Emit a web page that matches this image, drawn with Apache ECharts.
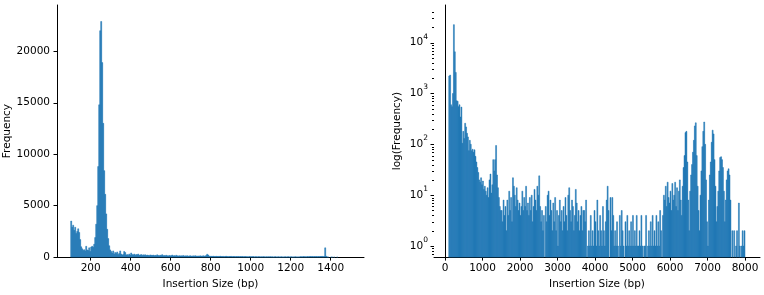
<!DOCTYPE html>
<html>
<head>
<meta charset="utf-8">
<script src="https://cdn.jsdelivr.net/npm/echarts@6/dist/echarts.min.js"></script>
<style>
  html, body { margin: 0; padding: 0; background: #fff; }
  #chart { width: 764px; height: 295px; }
</style>
</head>
<body>
<div id="chart"></div>
<script>
// left panel: 5 bp bins from 100 to 1500
const leftBinStart = 100
const leftBinWidth = 5
const leftCounts = [
  3500, 2900, 3100, 2600, 2900, 2300, 2500, 2750, 2400, 1700, 1000, 800, 650, 720, 600, 1050, 700, 650, 900, 550,
  980, 1050, 950, 1250, 1900, 3200, 5000, 8800, 14800, 22000, 22900, 18900, 13000, 8400, 6100, 4200, 2700, 1800, 1100, 700,
  550, 400, 600, 300, 450, 350, 500, 250, 350, 600, 300, 200, 250, 550, 450, 200, 250, 150, 300, 200,
  400, 250, 200, 300, 180, 250, 220, 300, 180, 200, 250, 150, 220, 180, 230, 150, 200, 170, 140, 210,
  180, 150, 200, 130, 170, 140, 220, 160, 120, 180, 150, 240, 130, 160, 120, 180, 140, 110, 160, 130,
  120, 200, 110, 150, 100, 180, 130, 90, 140, 110, 130, 100, 160, 90, 120, 100, 140, 80, 110, 130,
  100, 90, 120, 80, 140, 100, 90, 110, 80, 120, 100, 80, 130, 90, 110, 150, 280, 200, 90, 70,
  80, 60, 90, 70, 50, 80, 60, 70, 50, 90, 60, 50, 70, 40, 60, 80, 50, 40, 60, 50,
  70, 40, 50, 60, 30, 50, 40, 60, 30, 50, 40, 60, 30, 40, 50, 30, 40, 20, 50, 30,
  40, 30, 50, 20, 30, 40, 20, 30, 40, 20, 30, 20, 40, 30, 10, 30, 20, 30, 20, 40,
  20, 30, 10, 20, 40, 20, 10, 30, 20, 10, 30, 20, 10, 20, 30, 10, 20, 40, 10, 20,
  30, 10, 20, 10, 30, 20, 10, 20, 10, 30, 40, 20, 50, 30, 40, 20, 50, 30, 40, 60,
  40, 60, 30, 50, 40, 60, 30, 50, 40, 60, 50, 70, 40, 60, 900, 80, 20, 10, 0, 0,
  5, 2, 0, 1, 0, 0, 1, 0, 0, 0, 0, 0, 0, 0, 0, 0, 0, 0, 0, 0
]

// right panel: 25 bp bins from 100 to 8000
const rightBinStart = 100
const rightBinWidth = 25
const rightCounts = [
  2200, 2300, 600, 550, 1000, 22600, 6600, 2600, 720, 700, 550, 600, 345, 540, 105, 180, 130, 260, 220, 165,
  140, 75, 120, 100, 75, 80, 70, 78, 58, 45, 35, 28, 20, 18, 22, 16, 19, 13, 15, 12,
  10, 14, 9, 20, 26, 11, 16, 50, 30, 50, 95, 25, 14, 9, 6, 5, 5, 3, 8, 4,
  6, 2, 8, 4, 12, 5, 9, 3, 22, 15, 10, 6, 14, 8, 5, 7, 4, 6, 12, 5,
  9, 6, 15, 5, 7, 4, 9, 5, 10, 3, 6, 13, 8, 5, 15, 10, 24, 6, 3, 5,
  2, 4, 0, 6, 3, 10, 12, 4, 8, 5, 2, 7, 3, 9, 2, 5, 1, 4, 8, 3,
  5, 2, 6, 3, 9, 4, 2, 10, 14, 5, 3, 8, 6, 2, 4, 13, 7, 3, 5, 2,
  4, 6, 2, 5, 5, 3, 8, 0, 1, 2, 1, 4, 1, 2, 1, 5, 3, 1, 8, 2,
  1, 4, 2, 1, 6, 2, 1, 3, 8, 15, 5, 0, 9, 2, 9, 4, 1, 2, 1, 3,
  1, 0, 4, 1, 5, 2, 1, 0, 3, 1, 4, 1, 2, 1, 3, 1, 4, 1, 2, 1,
  4, 1, 1, 2, 1, 4, 1, 0, 1, 1, 4, 0, 1, 2, 1, 3, 1, 4, 1, 2,
  1, 4, 1, 3, 1, 5, 2, 0, 4, 10, 8, 15, 6, 18, 9, 7, 12, 5, 17, 8,
  10, 18, 6, 14, 5, 12, 20, 8, 4, 15, 35, 60, 170, 180, 45, 8, 2, 12, 25, 40,
  70, 120, 230, 265, 60, 15, 5, 2, 10, 30, 90, 180, 275, 100, 20, 3, 1, 8, 25, 45,
  110, 190, 160, 50, 15, 3, 6, 12, 30, 55, 57, 50, 35, 12, 3, 8, 20, 30, 33, 25,
  8, 0, 2, 0, 2, 0, 1, 2, 0, 7, 1, 0, 1, 2, 1, 2
]

const leftXTicks = [200, 400, 600, 800, 1000, 1200, 1400]
const leftYTicks = [0, 5000, 10000, 15000, 20000]
const rightXTicks = [0, 1000, 2000, 3000, 4000, 5000, 6000, 7000, 8000]
const rightYMajor = [1, 10, 100, 1000, 10000]
const rightYMinor = [
  0.7, 0.8, 0.9,
  2, 3, 4, 5, 6, 7, 8, 9,
  20, 30, 40, 50, 60, 70, 80, 90,
  200, 300, 400, 500, 600, 700, 800, 900,
  2000, 3000, 4000, 5000, 6000, 7000, 8000, 9000,
  20000, 30000, 40000
]

const BAR = '#1f77b4'
const FONT = 'DejaVu Sans'
const rightXMin = -293, rightXMax = 8400
const rightYMin = 0.606, rightYMax = 55000

function toBins(start, width, counts) {
  return counts.map((c, i) => [start + i * width, start + (i + 1) * width, c])
}

function histItem(base) {
  return function (params, api) {
    const v = api.value(2)
    if (!(v > 0)) return null
    const p0 = api.coord([api.value(0), v])
    const p1 = api.coord([api.value(1), base])
    return {
      type: 'rect',
      shape: { x: p0[0], y: p0[1], width: p1[0] - p0[0], height: p1[1] - p0[1] },
      style: { fill: BAR, stroke: BAR, lineWidth: 0.5 }
    }
  }
}

function tickItem(len) {
  return function (params, api) {
    const p = api.coord([rightXMin, api.value(1)])
    const y = Math.round(p[1]) + 0.5
    return {
      type: 'line',
      shape: { x1: p[0] - len, y1: y, x2: p[0], y2: y },
      style: { stroke: '#000', lineWidth: 1 }
    }
  }
}

const axisText = { color: '#000', fontFamily: FONT, fontSize: 10.5 }
const line = { show: true, lineStyle: { color: '#000', width: 1 } }
const plain = v => String(v)

const chart = echarts.init(document.getElementById('chart'), null, { renderer: 'canvas' })
chart.setOption({
  animation: false,
  backgroundColor: '#fff',
  grid: [
    { left: 57, top: 5, width: 307, height: 255 },
    { left: 434, top: 5, width: 326, height: 255 }
  ],
  xAxis: [
    {
      gridIndex: 0, type: 'value', min: 31.5, max: 1566.5,
      name: 'Insertion Size (bp)', nameLocation: 'middle', nameGap: 19, nameTextStyle: axisText,
      axisLine: line, splitLine: { show: false },
      axisTick: { show: true, length: 3.5, customValues: leftXTicks, lineStyle: { color: '#000' } },
      axisLabel: Object.assign({ customValues: leftXTicks, margin: 6, formatter: plain }, axisText)
    },
    {
      gridIndex: 1, type: 'value', min: rightXMin, max: rightXMax,
      name: 'Insertion Size (bp)', nameLocation: 'middle', nameGap: 19, nameTextStyle: axisText,
      axisLine: line, splitLine: { show: false },
      axisTick: { show: true, length: 3.5, customValues: rightXTicks, lineStyle: { color: '#000' } },
      axisLabel: Object.assign({ customValues: rightXTicks, margin: 6, formatter: plain }, axisText)
    }
  ],
  yAxis: [
    {
      gridIndex: 0, type: 'value', min: 0, max: 24500,
      name: 'Frequency', nameLocation: 'middle', nameGap: 44, nameTextStyle: axisText,
      axisLine: line, splitLine: { show: false },
      axisTick: { show: true, length: 3.5, customValues: leftYTicks, lineStyle: { color: '#000' } },
      axisLabel: Object.assign({ customValues: leftYTicks, margin: 7, formatter: plain }, axisText)
    },
    {
      gridIndex: 1, type: 'log', logBase: 10, min: rightYMin, max: rightYMax,
      name: 'log(Frequency)', nameLocation: 'middle', nameGap: 31, nameTextStyle: axisText,
      axisLine: line, splitLine: { show: false },
      axisTick: { show: false },
      axisLabel: {
        margin: 6,
        showMinLabel: false, showMaxLabel: false,
        formatter: function (v) {
          const e = Math.log10(v)
          const n = Math.round(e)
          if (Math.abs(e - n) > 1e-6 || rightYMajor.indexOf(Math.pow(10, n)) < 0) return ''
          return '{b|10}{s|' + n + '}'
        },
        rich: {
          b: { color: '#000', fontFamily: FONT, fontSize: 10.5, lineHeight: 20 },
          s: { color: '#000', fontFamily: FONT, fontSize: 7.5, lineHeight: 8, verticalAlign: 'top' }
        }
      }
    }
  ],
  series: [
    {
      type: 'custom', xAxisIndex: 0, yAxisIndex: 0,
      renderItem: histItem(0),
      encode: { x: [0, 1], y: 2 },
      data: toBins(leftBinStart, leftBinWidth, leftCounts)
    },
    {
      type: 'custom', xAxisIndex: 1, yAxisIndex: 1,
      renderItem: histItem(rightYMin),
      encode: { x: [0, 1], y: 2 },
      data: toBins(rightBinStart, rightBinWidth, rightCounts).filter(d => d[2] > 0)
    },
    {
      type: 'custom', xAxisIndex: 1, yAxisIndex: 1, clip: false, z: 5,
      renderItem: tickItem(3.5),
      encode: { x: 0, y: 1 },
      data: rightYMajor.map(v => [rightXMin, v])
    },
    {
      type: 'custom', xAxisIndex: 1, yAxisIndex: 1, clip: false, z: 5,
      renderItem: tickItem(2),
      encode: { x: 0, y: 1 },
      data: rightYMinor.map(v => [rightXMin, v])
    }
  ]
})
</script>
</body>
</html>
